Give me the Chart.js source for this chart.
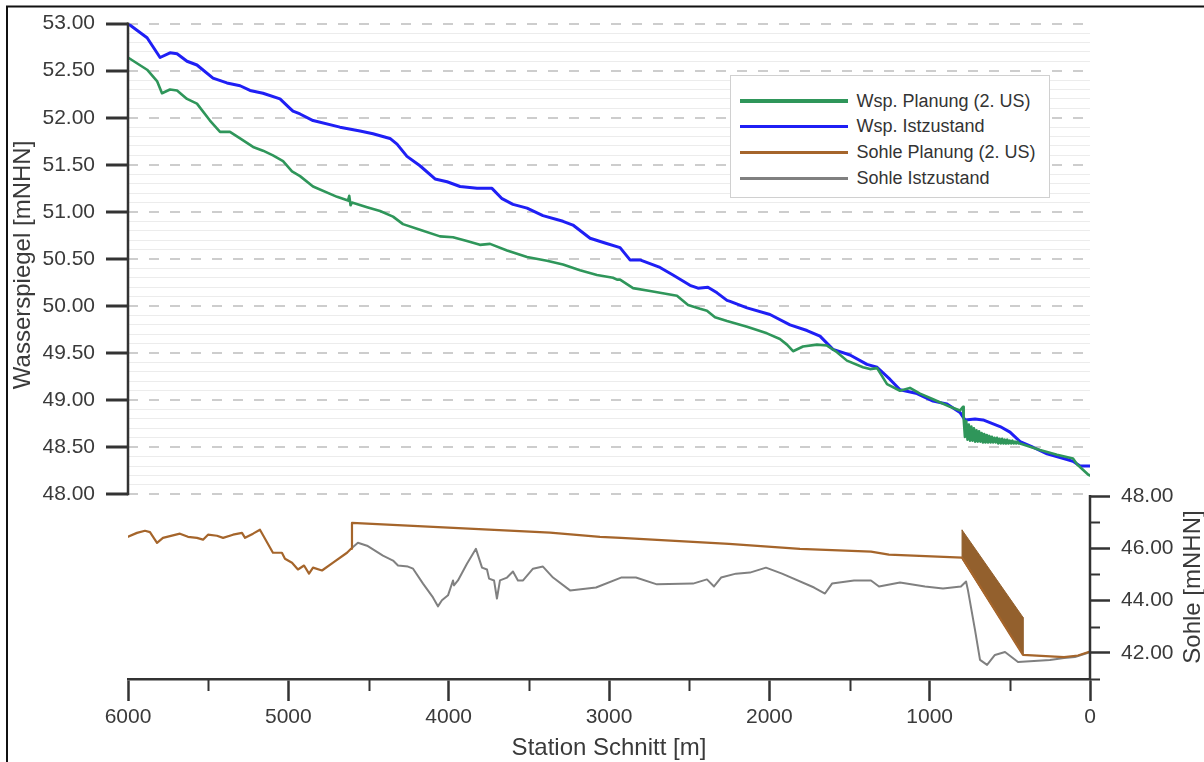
<!DOCTYPE html>
<html>
<head>
<meta charset="utf-8">
<script src="https://cdn.jsdelivr.net/npm/chart.js"></script>
<style>
html,body{margin:0;padding:0;background:#fff;}
#wrap{position:relative;width:1204px;height:762px;overflow:hidden;}
#legend{position:absolute;left:730px;top:75px;width:320px;height:123px;border:1.5px solid #d0d0d0;background:#fff;box-sizing:border-box;
  font:18px "Liberation Sans",Arial,sans-serif;color:#333;}
.row{position:absolute;left:0;height:26px;display:flex;align-items:center;white-space:nowrap;}
.swatch{width:108px;margin-left:8.5px;margin-right:9px;}
</style>
</head>
<body>
<div id="wrap">
  <canvas id="chart" width="1204" height="762"></canvas>
  <div id="legend"></div>
</div>
<script>
// ================== Data (Station [m] / Hoehe [mNHN]) ==================
const wspPlanStation = [6000,5881,5819,5788,5738,5694,5632,5570,5489,5426,5364,5301,5220,5158,5096,5033,4977,4927,4846,4696,4628,4620,4612,4603,4509,4428,4347,4285,4179,4054,3973,3886,3805,3742,3636,3511,3387,3287,3181,3075,2975,2950,2931,2850,2744,2576,2507,2432,2389,2339,2264,2139,2015,1934,1890,1852,1790,1703,1640,1578,1516,1416,1372,1328,1266,1185,1123,1060,979,873,811,792,
  788,780,772,764,756,748,740,732,724,716,708,700,692,684,676,668,660,652,644,636,628,620,612,604,596,588,580,572,564,556,548,540,532,524,516,508,500,492,484,476,468,460,452,444,
  436,312,206,106,81,12,0];
const wspPlanValue   = [52.64,52.51,52.39,52.26,52.30,52.29,52.20,52.15,51.97,51.85,51.85,51.78,51.69,51.65,51.60,51.54,51.43,51.38,51.27,51.16,51.12,51.17,51.07,51.10,51.05,51.01,50.95,50.87,50.81,50.74,50.73,50.69,50.65,50.66,50.59,50.52,50.48,50.44,50.38,50.33,50.30,50.28,50.28,50.19,50.16,50.11,50.01,49.97,49.95,49.88,49.84,49.78,49.71,49.65,49.59,49.52,49.57,49.59,49.58,49.51,49.42,49.35,49.33,49.34,49.17,49.10,49.13,49.07,49.01,48.93,48.89,48.93,
  48.80,48.61,48.78,48.58,48.74,48.57,48.72,48.57,48.70,48.56,48.68,48.56,48.67,48.56,48.65,48.55,48.64,48.55,48.63,48.55,48.62,48.55,48.61,48.55,48.60,48.55,48.60,48.54,48.59,48.54,48.59,48.54,48.58,48.54,48.58,48.54,48.57,48.54,48.57,48.54,48.56,48.54,48.56,48.54,
  48.54,48.47,48.42,48.38,48.32,48.21,48.20];

const wspIstStation = [6000,5881,5800,5738,5694,5632,5570,5470,5383,5301,5239,5158,5052,4990,4971,4927,4846,4678,4553,4472,4366,4322,4260,4179,4085,4010,3929,3823,3730,3667,3599,3511,3412,3287,3225,3118,3025,2931,2869,2807,2682,2601,2495,2445,2383,2326,2264,2245,2139,1996,1871,1765,1684,1603,1497,1391,1328,1247,1185,1079,979,892,811,780,717,667,561,499,436,356,268,143,106,62,12,0];
const wspIstValue   = [53.00,52.85,52.64,52.69,52.68,52.60,52.56,52.42,52.37,52.34,52.29,52.26,52.20,52.10,52.07,52.04,51.97,51.90,51.86,51.83,51.78,51.72,51.59,51.49,51.35,51.32,51.27,51.25,51.25,51.14,51.08,51.04,50.96,50.90,50.86,50.72,50.67,50.62,50.49,50.49,50.41,50.33,50.22,50.19,50.20,50.14,50.06,50.05,49.98,49.91,49.80,49.74,49.68,49.54,49.48,49.38,49.35,49.22,49.11,49.07,48.99,48.96,48.87,48.79,48.80,48.79,48.72,48.66,48.56,48.50,48.43,48.37,48.35,48.30,48.30,48.30];

const sohlePlanStation = [6000,5944,5894,5863,5819,5782,5676,5626,5570,5532,5501,5445,5407,5345,5289,5270,5220,5177,5096,5040,5021,4977,4940,4902,4871,4846,4790,4721,4634,4609,4603,3368,3056,2925,2252,1809,1366,1254,798,418,162,75,0];
const sohlePlanValue   = [46.44,46.59,46.67,46.62,46.21,46.40,46.56,46.44,46.40,46.33,46.52,46.48,46.40,46.52,46.59,46.40,46.56,46.71,45.83,45.83,45.60,45.45,45.19,45.34,45.03,45.26,45.15,45.45,45.83,45.98,46.97,46.60,46.44,46.40,46.17,45.98,45.87,45.76,45.64,41.92,41.84,41.90,42.05];

// Sohlrampe (2. US): umlaufende Flaeche
const rampeStation = [798,418,418,798,798];
const rampeValue   = [46.70,43.36,41.92,45.60,46.70];

const sohleIstStation = [4609,4566,4509,4410,4347,4316,4254,4222,4160,4098,4067,4042,4004,3973,3967,3942,3886,3830,3792,3761,3748,3717,3699,3680,3636,3599,3568,3536,3474,3412,3349,3243,3081,2925,2832,2701,2476,2389,2345,2301,2208,2121,2021,1921,1721,1653,1609,1472,1366,1316,1185,1029,917,805,773,761,717,686,642,593,530,449,250,162,94,0];
const sohleIstValue   = [45.98,46.21,46.10,45.72,45.53,45.34,45.30,45.22,44.65,44.12,43.78,44.01,44.20,44.77,44.58,44.77,45.41,45.98,45.26,45.19,44.84,44.77,44.08,44.77,44.88,45.11,44.77,44.77,45.22,45.30,44.88,44.39,44.50,44.88,44.88,44.62,44.65,44.81,44.54,44.88,45.03,45.07,45.26,45.03,44.50,44.27,44.65,44.77,44.77,44.54,44.69,44.54,44.46,44.54,44.73,44.39,42.87,41.73,41.54,41.92,42.03,41.65,41.73,41.80,41.84,42.03];

const seriesLabels = ["Wsp. Planung (2. US)","Wsp. Istzustand","Sohle Planung (2. US)","Sohle Istzustand"];
const xTicks = [0,500,1000,1500,2000,2500,3000,3500,4000,4500,5000,5500,6000];
const wspTicks = [48.0,48.5,49.0,49.5,50.0,50.5,51.0,51.5,52.0,52.5,53.0];
const sohleTicks = [41,42,43,44,45,46,47,48];
// ================== End Data ==================

const FONT = '"Liberation Sans", Arial, sans-serif';
const TXT = '#3a3a3a';
const AX = '#333333';

// Wasserspiegel oben (~72% der Hoehe), Sohle unten (~28%)
const wspMin = 48, wspMax = 53;
const sohleMin = 41, sohleTop = 48;
const yMin = wspMax - (wspMax - wspMin) / 0.7182;
const y2Max = sohleMin + (sohleTop - sohleMin) / 0.2792;

function pts(st, val){ return st.map((s,i)=>({x:s, y:val[i]})); }
function isMajor(v){ return Math.abs(v*2 - Math.round(v*2)) < 1e-6; }

// minor gridlines every 0.1 between the major ones
const wspGrid = [];
for(let i=0;i<=50;i++) wspGrid.push(Math.round((wspMin + i*0.1)*10)/10);

// =============== axis lines, minor ticks, y titles, frame ===============
const decor = {
  id:'decor',
  afterDraw(chart){
    const {ctx, chartArea:a, scales:{x,y,y2}} = chart;
    ctx.save();
    ctx.strokeStyle = AX;
    ctx.lineWidth = 2.5;
    ctx.beginPath();
    ctx.moveTo(a.left, y.getPixelForValue(wspMax)-1);
    ctx.lineTo(a.left, y.getPixelForValue(wspMin)+1);
    ctx.stroke();
    ctx.beginPath();
    ctx.moveTo(a.right, y2.getPixelForValue(sohleTop)-1);
    ctx.lineTo(a.right, a.bottom+1);
    ctx.stroke();
    // minor ticks
    ctx.lineWidth = 2;
    xTicks.filter(v=>v%1000!==0).forEach(v=>{
      const px = Math.round(x.getPixelForValue(v))+0.5;
      ctx.beginPath(); ctx.moveTo(px, a.bottom); ctx.lineTo(px, a.bottom+12); ctx.stroke();
    });
    sohleTicks.filter(v=>v%2!==0).forEach(v=>{
      const py = Math.round(y2.getPixelForValue(v))+0.5;
      ctx.beginPath(); ctx.moveTo(a.right, py); ctx.lineTo(a.right+10, py); ctx.stroke();
    });
    // y titles
    ctx.fillStyle = TXT;
    ctx.font = '24px ' + FONT;
    ctx.textAlign = 'center';
    ctx.textBaseline = 'middle';
    ctx.save();
    ctx.translate(23, (y.getPixelForValue(wspMax)+y.getPixelForValue(wspMin))/2 + 6);
    ctx.rotate(-Math.PI/2);
    ctx.fillText('Wasserspiegel [mNHN]', 0, 0);
    ctx.restore();
    ctx.save();
    ctx.translate(1193, 587);
    ctx.rotate(-Math.PI/2);
    ctx.fillText('Sohle [mNHN]', 0, 0);
    ctx.restore();
    // outer frame (top + left)
    ctx.strokeStyle = '#111';
    ctx.lineWidth = 2;
    ctx.beginPath();
    ctx.moveTo(7, 800); ctx.lineTo(7, 6.5); ctx.lineTo(1210, 6.5);
    ctx.stroke();
    ctx.restore();
  }
};

const ctx = document.getElementById('chart').getContext('2d');
const chart = new Chart(ctx, {
  type:'line',
  data:{
    datasets:[
      {label:seriesLabels[0], data:pts(wspPlanStation,wspPlanValue), yAxisID:'y', borderColor:'#2f965a', borderWidth:2.6},
      {label:seriesLabels[1], data:pts(wspIstStation,wspIstValue), yAxisID:'y', borderColor:'#1f1ff5', borderWidth:3},
      {label:seriesLabels[2], data:pts(sohlePlanStation,sohlePlanValue), yAxisID:'y2', borderColor:'#a5652b', borderWidth:2.2},
      {label:seriesLabels[3], data:pts(sohleIstStation,sohleIstValue), yAxisID:'y2', borderColor:'#808080', borderWidth:2},
      {label:'', data:pts(rampeStation,rampeValue), yAxisID:'y2', borderColor:'#93602d', backgroundColor:'#93602d', borderWidth:1, fill:'shape'}
    ]
  },
  options:{
    responsive:false,
    animation:false,
    parsing:true,
    elements:{point:{radius:0}, line:{tension:0, borderJoinStyle:'round', borderCapStyle:'round'}},
    layout:{padding:{top:19, left:0, right:0, bottom:0}},
    plugins:{legend:{display:false}, tooltip:{enabled:false}},
    scales:{
      x:{
        type:'linear', reverse:true, min:0, max:6000,
        afterBuildTicks:s=>{ s.ticks = xTicks.map(v=>({value:v})); },
        afterFit:s=>{ s.height = 83; },
        ticks:{autoSkip:false, maxRotation:0, padding:4, color:TXT, font:{family:FONT, size:21},
          callback:v=> v%1000===0 ? String(v) : ''},
        grid:{drawOnChartArea:false, drawTicks:true, tickLength:22, tickWidth:2.5,
          tickColor:c=> (c.tick && c.tick.value%1000===0) ? AX : 'rgba(0,0,0,0)'},
        border:{display:true, color:AX, width:2.5},
        title:{display:true, text:'Station Schnitt [m]', color:TXT, font:{family:FONT, size:24, lineHeight:1.1}, padding:{top:0, bottom:0}}
      },
      y:{
        type:'linear', position:'left', min:yMin, max:wspMax,
        afterBuildTicks:s=>{ s.ticks = wspGrid.map(v=>({value:v})); },
        afterFit:s=>{ s.width = 128; },
        ticks:{autoSkip:false, padding:11, color:TXT, font:{family:FONT, size:21},
          callback:v=> wspTicks.some(t=>Math.abs(t-v)<1e-6) ? v.toFixed(2) : ''},
        grid:{drawOnChartArea:true, drawTicks:true, tickLength:22, tickWidth:3,
          color:c=> isMajor(c.tick.value) ? '#cdcdcd' : '#ececec',
          lineWidth:c=> isMajor(c.tick.value) ? 2 : 1,
          tickColor:c=> isMajor(c.tick.value) ? AX : 'rgba(0,0,0,0)'},
        border:{display:false, dash:c=> (c.tick && isMajor(c.tick.value)) ? [10,11] : []}
      },
      y2:{
        type:'linear', position:'right', min:sohleMin, max:y2Max,
        afterBuildTicks:s=>{ s.ticks = sohleTicks.map(v=>({value:v})); },
        afterFit:s=>{ s.width = 114; },
        ticks:{autoSkip:false, padding:11, color:TXT, font:{family:FONT, size:21},
          callback:v=> v%2===0 ? v.toFixed(2) : ''},
        grid:{drawOnChartArea:false, drawTicks:true, tickLength:20, tickWidth:2.5,
          tickColor:c=> (c.tick && c.tick.value%2===0) ? AX : 'rgba(0,0,0,0)'},
        border:{display:false}
      }
    }
  },
  plugins:[decor]
});

// =============== HTML legend ===============
function renderLegend(){
  const box = document.getElementById('legend');
  box.innerHTML = '';
  const rowCenters = [26.5, 52, 78, 104];
  chart.data.datasets.filter(d=>d.label).forEach((d,i)=>{
    const row = document.createElement('div');
    row.className = 'row';
    row.style.top = (rowCenters[i]-13-1.5) + 'px';
    row.innerHTML = `<span class="swatch" style="height:3.5px;background:${d.borderColor}"></span><span>${d.label}</span>`;
    box.appendChild(row);
  });
}
renderLegend();
</script>
</body>
</html>
